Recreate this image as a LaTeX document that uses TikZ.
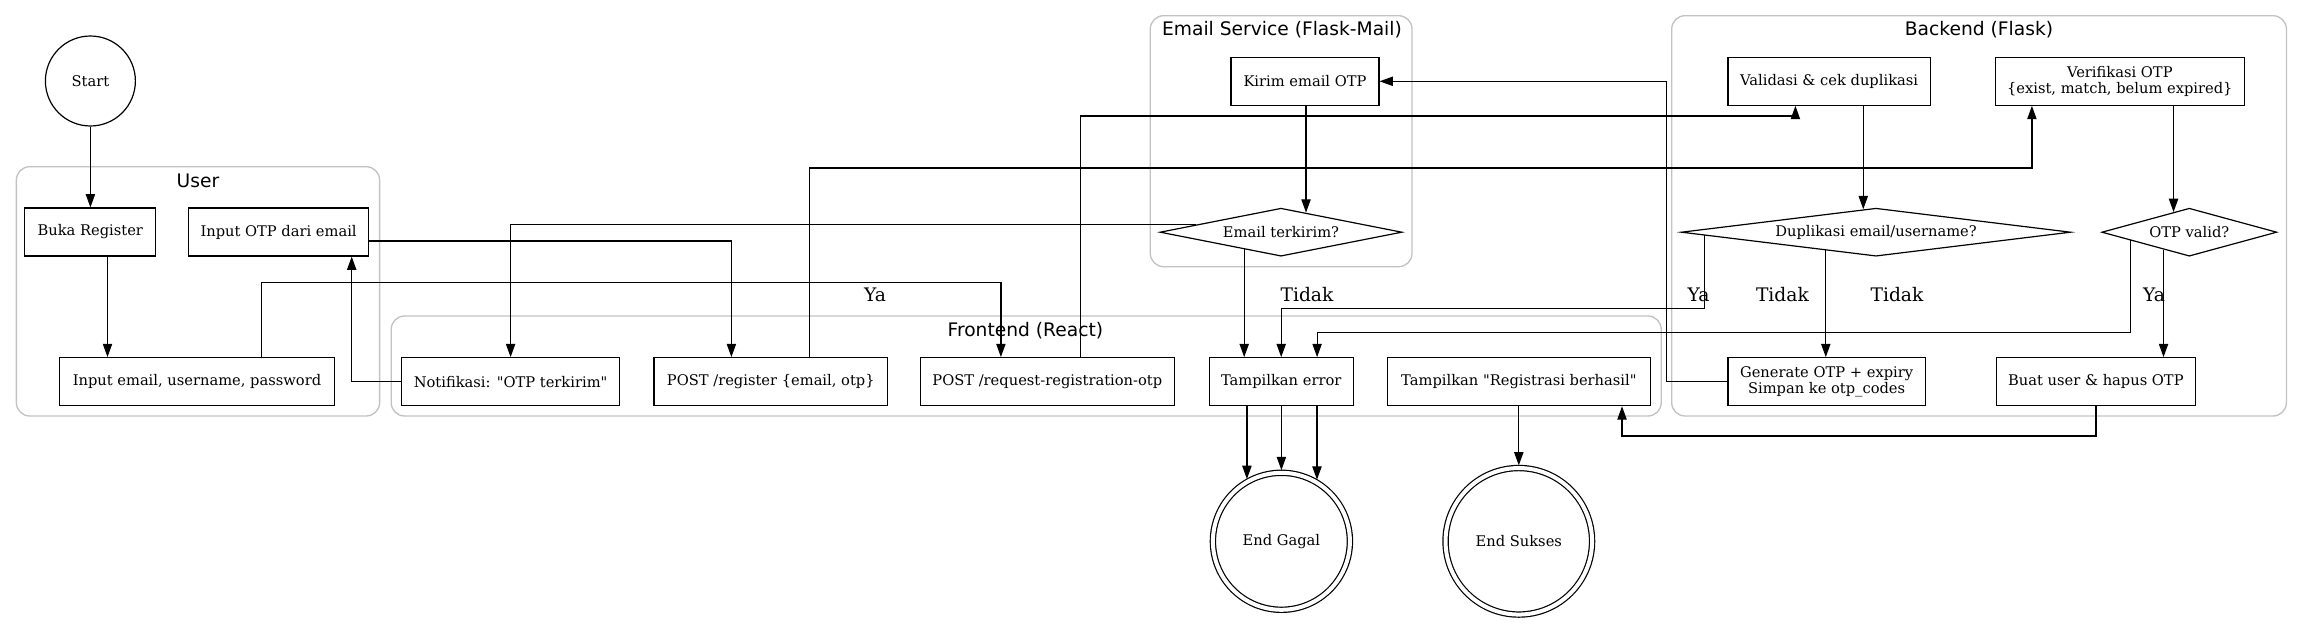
\documentclass[tikz,border=0pt]{standalone}
\usepackage{fontspec}
\setmainfont{DejaVu Serif}[Ligatures=TeXOff]
\newfontfamily\clusterfont{DejaVu Sans}
\usetikzlibrary{shapes.geometric,arrows.meta}
\begin{document}
\begin{tikzpicture}[x=0.75pt,y=-0.75pt,line width=0.9pt,
  nodefont/.style={font=\fontsize{11}{12.5}\selectfont},
  box/.style={draw, rectangle, minimum height=36pt, inner sep=0pt, align=center, nodefont},
  dia/.style={draw, diamond, minimum height=36pt, inner sep=0pt, nodefont},
  circ/.style={draw, circle, inner sep=0pt, nodefont},
  dcirc/.style={draw, circle, double, double distance=3pt, inner sep=0pt, outer sep=2pt, nodefont},
  cl/.style={draw=black!24, line width=1pt, rounded corners=10pt},
  cllabel/.style={font=\clusterfont\fontsize{14}{16}\selectfont},
  elabel/.style={font=\fontsize{14}{16}\selectfont, anchor=base},
  arr/.style={-{Triangle[length=10pt,width=7pt]}}
]
\useasboundingbox (0,0) rectangle (2303,623);

% clusters
\draw[cl] (16.4,166.7) rectangle (379.6,416);
\draw[cl] (391.2,316) rectangle (1661.2,416);
\draw[cl] (1150.3,15.7) rectangle (1412,266.7);
\draw[cl] (1671.7,15.7) rectangle (2286.4,416);
\node[cllabel] (lbuser) at (198,181) {User};
\node[cllabel] (lbfront) at (1025.4,331) {Frontend (React)};
\node[cllabel] (lbmail) at (1282,30) {Email Service (Flask-Mail)};
\node[cllabel] (lbback) at (1979,30) {Backend (Flask)};

% nodes
\node[circ, minimum size=67.5pt] (start) at (90.4,81) {Start};
\node[box, minimum width=98.25pt] (buka) at (90.3,232) {Buka Register};
\node[box, minimum width=135pt] (inotp) at (278.6,232) {Input OTP dari email};
\node[box, minimum width=206pt] (inemail) at (197,381.7) {Input email, username, password};
\node[box, minimum width=163.8pt] (notif) at (510.6,381.7) {Notifikasi: "OTP terkirim"};
\node[box, minimum width=175.2pt] (postreg) at (770.8,381.7) {POST /register \{email, otp\}};
\node[box, minimum width=190.5pt] (postreq) at (1047.3,381.7) {POST /request-registration-otp};
\node[box, minimum width=108pt] (err) at (1281.2,381.7) {Tampilkan error};
\node[box, minimum width=197.5pt] (ok) at (1518.9,381.7) {Tampilkan "Registrasi berhasil"};
\node[box, minimum width=111pt] (kirim) at (1305,81.3) {Kirim email OTP};
\node[dia, minimum width=181.5pt, shape aspect=5.04] (terkirim) at (1281,232.2) {Email terkirim?};
\node[box, minimum width=151.8pt] (valid) at (1829.1,81.3) {Validasi \& cek duplikasi};
\node[box, minimum width=186.75pt] (verif) at (2119.8,81.3) {Verifikasi OTP\\\{exist, match, belum expired\}};
\node[dia, minimum width=292.1pt, shape aspect=8.11] (dup) at (1876,232.2) {Duplikasi email/username?};
\node[dia, minimum width=131.25pt, shape aspect=3.65] (otpvalid) at (2189.3,232.2) {OTP valid?};
\node[box, minimum width=148pt] (gen) at (1826.6,381.7) {Generate OTP + expiry\\Simpan ke otp\_codes};
\node[box, minimum width=149pt] (buat) at (2095.9,381.7) {Buat user \& hapus OTP};
\node[dcirc, minimum size=102.75pt] (endg) at (1281.4,541.3) {End Gagal};
\node[dcirc, minimum size=109.9pt] (ends) at (1518.8,541.3) {End Sukses};

% edge labels
\node[elabel] (l1) at (875,301.5) {Ya};
\node[elabel] (l2) at (1307,301.5) {Tidak};
\node[elabel] (l3) at (1698.5,301.5) {Ya};
\node[elabel] (l4) at (1782.4,301.5) {Tidak};
\node[elabel] (l5) at (1897,301.5) {Tidak};
\node[elabel] (l6) at (2154,301.5) {Ya};

% edges
\draw[arr] (start.south) -- (buka.north -| start.south);
\draw[arr] (buka.south -| 107.5,0) -- (inemail.north -| 107.5,0);
\draw[arr] (inemail.north -| 261.7,0) -- (261.7,282.7) -| (postreq.north -| 1000.9,0);
\draw[arr] (postreq.north -| 1080.5,0) -- (1080.5,116) -| (valid.south -| 1795.4,0);
\draw[arr] (postreg.north -| 809.6,0) -- (809.6,168) -| (verif.south -| 2031.9,0);
\draw[arr] (inotp.east |- 0,241) -| (postreg.north -| 731.4,0);
\draw[arr] (notif.west) -| (inotp.south -| 351.7,0);
\draw[arr] (terkirim.175.4) -| (notif.north);
\draw[arr] (kirim.south -| terkirim.38.3) -- (terkirim.38.3);
\draw[arr] (terkirim.205.3) -- (err.north -| terkirim.205.3);
\draw[arr] (valid.south -| dup.119.7) -- (dup.119.7);
\draw[arr] (dup.181) -- (dup.181 |- 0,308.3) -| (err.north);
\draw[arr] (dup.200.1) -- (gen.north -| dup.200.1);
\draw[arr] (verif.south -| otpvalid.128.8) -- (otpvalid.128.8);
\draw[arr] (otpvalid.188.6) -- (otpvalid.188.6 |- 0,332.7) -| (err.north -| 1317.1,0);
\draw[arr] (otpvalid.214.6) -- (buat.north -| otpvalid.214.6);
\draw[arr] (gen.west) -- (gen.west -| 1666.5,0) |- (kirim.east);
\draw[arr] (buat.south) -- (buat.south |- 0,436) -| (ok.south -| 1622,0);
\draw[arr] (ends.north |- ok.south) -- (ends.north);
\draw[arr] (err.south -| endg.119.7) -- (endg.119.7);
\draw[arr] (err.south -| endg.north) -- (endg.north);
\draw[arr] (err.south -| endg.60.3) -- (endg.60.3);
\end{tikzpicture}
\end{document}
